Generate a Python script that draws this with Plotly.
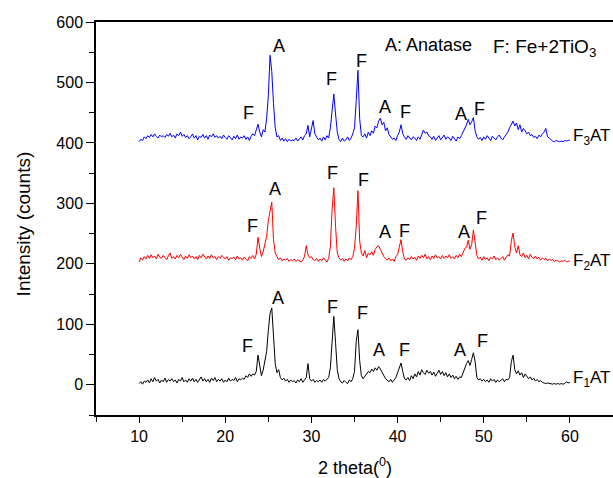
import plotly.graph_objects as go

# 2-theta grid (degrees), 0.2 deg step from 10 to 60
two_theta = [round(10 + 0.2 * i, 1) for i in range(251)]

# F1AT (black)
f1at = [
    2, 5, 1, 6, 4,
    8, 3, 10, 5, 12,
    6, 9, 3, 8, 5,
    11, 4, 9, 6, 10,
    5, 8, 3, 9, 6,
    12, 5, 8, 4, 10,
    6, 11, 5, 9, 4,
    8, 13, 6, 10, 5,
    9, 4, 11, 7, 12,
    5, 9, 6, 10, 4,
    8, 5, 11, 6, 9,
    7, 12, 5, 10, 8,
    11, 9, 15, 12, 18,
    14, 18, 16, 22, 49,
    30, 15, 24, 38, 55,
    90, 118, 127, 78, 35,
    20, 25, 12, 8, 11,
    6, 9, 4, 8, 5,
    7, 3, 8, 5, 10,
    4, 8, 12, 35, 10,
    6, 9, 4, 7, 5,
    8, 4, 9, 6, 10,
    12, 28, 75, 113, 70,
    25, 10, 5, 3, 7,
    4, 2, 8, 5, 10,
    22, 72, 91, 40, 15,
    10, 14, 18, 22, 20,
    26, 22, 28, 24, 30,
    26, 20, 15, 10, 8,
    5, 9, 4, 8, 12,
    20, 28, 36, 22, 10,
    8, 12, 7, 15, 10,
    18, 13, 22, 16, 25,
    20, 17, 24, 19, 22,
    16, 21, 14, 19, 24,
    17, 22, 15, 20, 13,
    18, 12, 16, 10, 14,
    9, 13, 12, 20, 28,
    35, 40, 32, 42, 53,
    38, 12, 8, 10, 6,
    9, 5, 8, 4, 10,
    6, 9, 4, 8, 5,
    7, 10, 5, 9, 8,
    12, 38, 49, 25, 18,
    23, 16, 20, 12, 18,
    14, 10, 13, 8, 11,
    6, 9, 5, 7, 4,
    3, 2, 3, 2, 2,
    1, 2, 1, 2, 1,
    2, 1, 2, 5, 3,
    4,
]

# F2AT (red)
f2at = [
    203, 210, 206, 212, 208,
    214, 209, 215, 210, 213,
    208, 216, 211, 209, 214,
    210, 207, 213, 218, 209,
    212, 208, 214, 210, 216,
    211, 207, 213, 209, 215,
    210, 213, 208, 212, 207,
    214, 210, 216, 211, 208,
    213, 209, 215, 210, 212,
    207, 212, 209, 214, 210,
    208, 212, 206, 210, 209,
    211, 207, 213, 208, 210,
    206, 211, 208, 205, 212,
    209, 214, 208, 216, 244,
    226, 212, 220, 232, 245,
    272, 290, 302, 240, 218,
    212, 207, 210, 205, 208,
    206, 209, 204, 207, 205,
    208, 204, 207, 205, 203,
    206, 212, 230, 215, 210,
    212, 207, 205, 209, 204,
    208, 205, 210, 206, 203,
    209, 228, 290, 326, 262,
    218, 210, 206, 209, 204,
    208, 205, 210, 207, 212,
    226, 262, 321, 238, 218,
    213, 222, 210, 218, 215,
    220, 214, 224, 228, 230,
    224, 218, 212, 209, 206,
    210, 205, 208, 204, 212,
    215, 228, 240, 220, 208,
    206, 210, 207, 212, 208,
    211, 206, 213, 209, 214,
    210, 216, 208, 212, 207,
    213, 209, 215, 210, 212,
    208, 214, 209, 213, 210,
    215, 209, 212, 208, 214,
    210, 216, 212, 220, 225,
    228, 239, 224, 232, 256,
    232, 214, 208, 211, 206,
    212, 207, 210, 205, 211,
    208, 213, 207, 210, 206,
    209, 212, 206, 210, 215,
    213, 238, 251, 228, 218,
    230, 215, 212, 218, 210,
    214, 208, 216, 211, 209,
    213, 208, 211, 206, 210,
    207, 209, 205, 208, 206,
    207, 204, 206, 205, 203,
    205, 204, 206, 203, 204,
    205,
]

# F3AT (blue)
f3at = [
    402, 406, 404, 410, 407,
    412, 409, 414, 410, 415,
    411, 408, 413, 410, 412,
    409, 414, 411, 416, 410,
    413, 408, 415, 412, 418,
    411, 414, 409, 412, 407,
    410, 415, 408, 412, 405,
    411, 409, 414, 408, 412,
    406, 413, 410, 415, 409,
    412, 408, 411, 407, 413,
    409, 406, 412, 408, 405,
    411, 407, 413, 406, 410,
    408, 412, 406, 410, 404,
    411, 415, 412, 420, 431,
    418, 410, 422, 418, 440,
    478, 545, 518, 465, 425,
    410, 412, 404, 408, 403,
    407, 402, 406, 403, 405,
    404, 408, 403, 406, 410,
    405, 412, 415, 429, 410,
    425, 437, 415, 410, 405,
    408, 403, 410, 405, 412,
    408, 425, 458, 481, 448,
    418, 406, 402, 408, 403,
    405, 410, 404, 408, 415,
    425, 470, 520, 440, 412,
    410, 415, 408, 418, 412,
    420, 416, 428, 425, 436,
    441, 430, 434, 420, 425,
    414, 410, 406, 408, 404,
    412, 418, 430, 415, 410,
    406, 412, 409, 405, 410,
    408, 404, 410, 406, 414,
    421, 416, 418, 412, 410,
    406, 411, 404, 409, 412,
    405, 410, 413, 406, 410,
    408, 404, 411, 406, 403,
    410, 407, 412, 418, 425,
    430, 439, 430, 435, 442,
    420, 410, 406, 409, 404,
    410, 406, 412, 408, 404,
    411, 407, 405, 410, 413,
    408, 405, 410, 414, 418,
    425, 430, 436, 428, 433,
    422, 430, 418, 424, 420,
    415, 418, 412, 414, 409,
    411, 407, 413, 410, 415,
    418, 424, 410, 408, 405,
    403, 402, 404, 403, 402,
    403, 402, 404, 403, 404,
    405,
]

series_names = ["F<sub>1</sub>AT", "F<sub>2</sub>AT", "F<sub>3</sub>AT"]
series_colors = ["#000000", "#ff0000", "#0000ff"]
series_label_y = [14, 208, 414]

# Phase labels (A = anatase, F = Fe+2TiO3) per pattern
label_text = ["F", "A", "F", "F", "A", "F", "A", "F"]
f1_label_x = [22.6, 26.1, 32.5, 35.9, 37.9, 40.8, 47.3, 49.8]
f1_label_y = [64, 143, 128, 118, 57, 58, 57, 72]
f2_label_x = [23.2, 25.8, 32.4, 36.0, 38.5, 40.8, 47.7, 49.7]
f2_label_y = [262, 324, 350, 338, 252, 254, 252, 276]
f3_label_x = [22.7, 26.2, 32.3, 35.8, 38.5, 40.9, 47.4, 49.5]
f3_label_y = [450, 560, 506, 535, 460, 451, 448, 456]

FONT = "Liberation Sans, Arial, sans-serif"

fig = go.Figure()
for ys, name, col in zip([f1at, f2at, f3at], series_names, series_colors):
    fig.add_trace(go.Scatter(x=two_theta, y=ys, mode="lines", name=name,
                             line=dict(color=col, width=1), showlegend=False))

annotations = []
for lx, ly in [(f1_label_x, f1_label_y), (f2_label_x, f2_label_y), (f3_label_x, f3_label_y)]:
    for t, xx, yy in zip(label_text, lx, ly):
        annotations.append(dict(x=xx, y=yy, text=t, showarrow=False,
                                xref="x", yref="y", xanchor="center", yanchor="middle",
                                font=dict(family=FONT, size=18, color="black")))

for name, yy in zip(series_names, series_label_y):
    annotations.append(dict(x=60.1, y=yy, text=name, showarrow=False,
                            xref="x", yref="y", xanchor="left", yanchor="middle",
                            yshift=-3,
                            font=dict(family=FONT, size=17, color="black")))

annotations.append(dict(x=38.3, y=562, text="A: Anatase", showarrow=False,
                        xref="x", yref="y", xanchor="left", yanchor="middle",
                        font=dict(family=FONT, size=18, color="black")))
annotations.append(dict(x=50.8, y=562, text="F: Fe+2TiO<sub>3</sub>", showarrow=False,
                        xref="x", yref="y", xanchor="left", yanchor="middle",
                        yshift=-3,
                        font=dict(family=FONT, size=19, color="black")))

annotations.append(dict(x=0, y=0.485, xref="paper", yref="paper", text="Intensity (counts)",
                        showarrow=False, textangle=-90, xanchor="center", yanchor="middle",
                        xshift=-73, font=dict(family=FONT, size=19, color="black")))
annotations.append(dict(x=0.5, y=0, xref="paper", yref="paper", text="2 theta(<sup>0</sup>)",
                        showarrow=False, xanchor="center", yanchor="middle",
                        yshift=-51, font=dict(family=FONT, size=18, color="black")))

fig.update_layout(
    width=613, height=478,
    margin=dict(l=96, r=0, t=22, b=63),
    paper_bgcolor="white", plot_bgcolor="white",
    font=dict(family=FONT, size=16, color="black"),
    annotations=annotations,
)
fig.update_xaxes(range=[5, 65], tickmode="linear", tick0=10, dtick=10,
                 showline=True, linecolor="black", linewidth=1.5, mirror=True,
                 ticks="outside", ticklen=6, tickwidth=1.2, tickcolor="black",
                 minor=dict(ticks="outside", ticklen=5, tick0=5, dtick=5, tickcolor="black", tickwidth=1.2),
                 showgrid=False, zeroline=False,
                 tickfont=dict(family=FONT, size=16, color="black"))
fig.update_yaxes(range=[-50, 600], tickmode="linear", tick0=0, dtick=100,
                 showline=True, linecolor="black", linewidth=1.5, mirror=False,
                 ticks="outside", ticklen=8, tickwidth=1.2, tickcolor="black",
                 minor=dict(ticks="outside", ticklen=5, tick0=-50, dtick=50, tickcolor="black", tickwidth=1.2),
                 showgrid=False, zeroline=False,
                 tickfont=dict(family=FONT, size=16, color="black"))

fig.write_html("out.html")
